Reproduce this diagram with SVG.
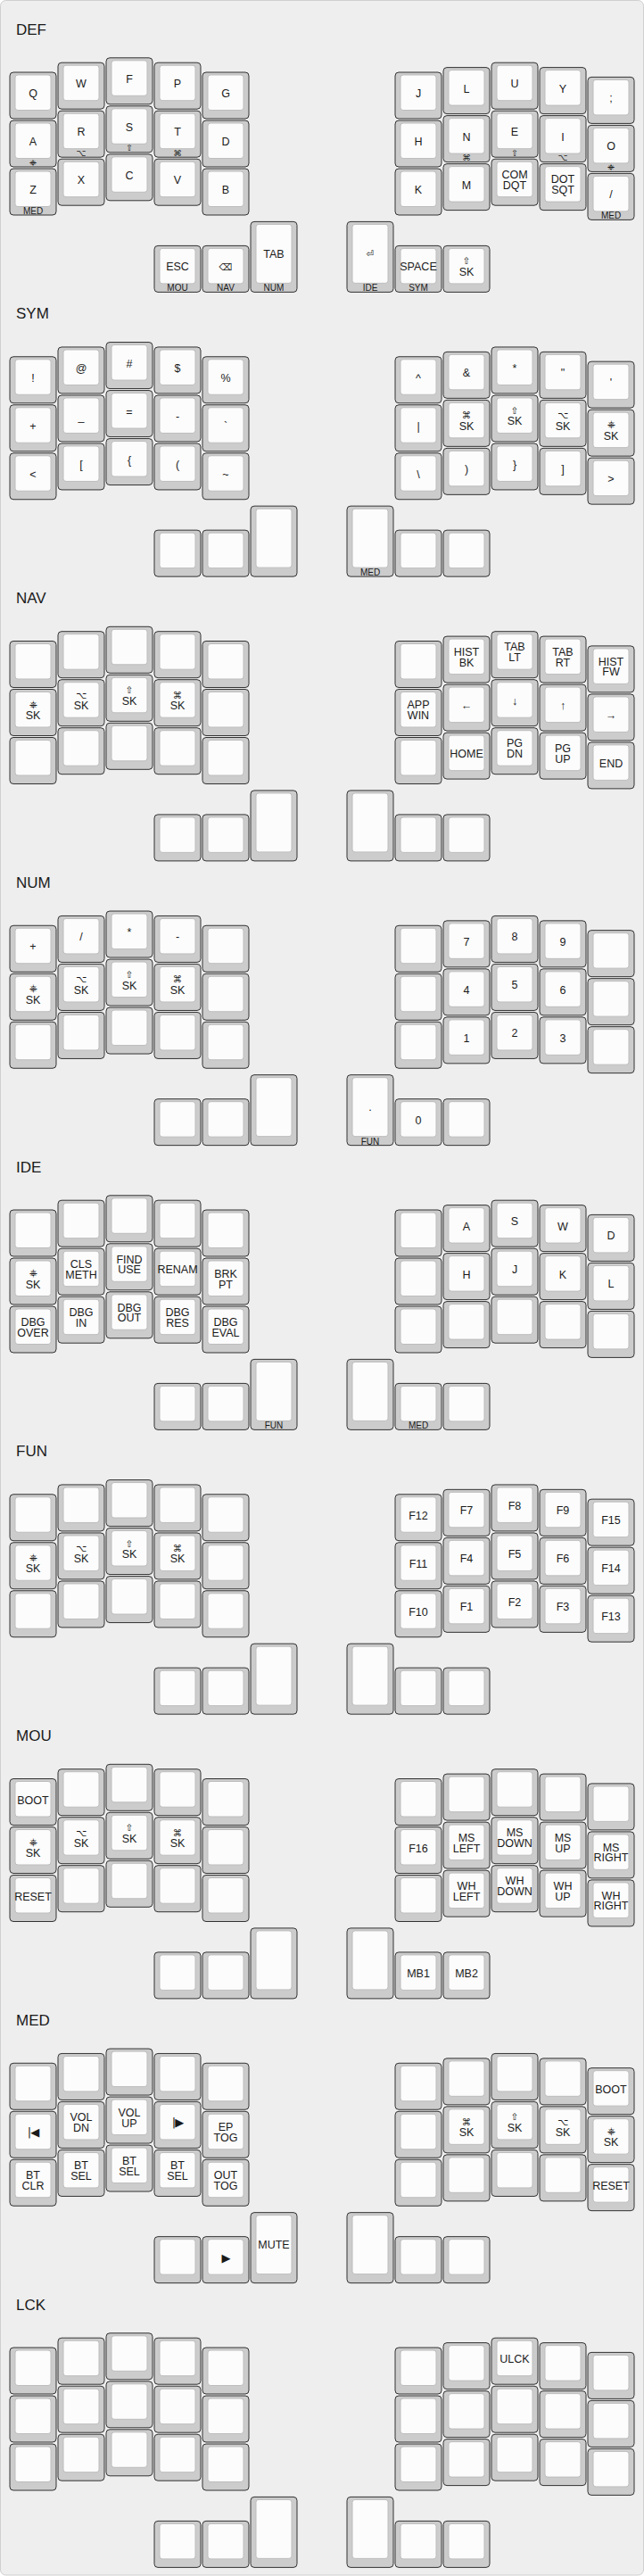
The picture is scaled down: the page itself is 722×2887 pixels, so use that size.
<svg xmlns="http://www.w3.org/2000/svg" xmlns:xlink="http://www.w3.org/1999/xlink" width="722" height="2887" viewBox="0 0 722 2887">
<style>
.bg{fill:#eeeeee;stroke:#cfcfcf;stroke-width:1}
.ko{fill:#cccccc;stroke:#333333;stroke-width:1}
.ki{fill:#fcfcfc;stroke:#bdbdbd;stroke-width:1}
text{font-family:"Liberation Sans","DejaVu Sans",Arial,sans-serif;fill:#1a1a1a;text-anchor:middle}
.t{font-size:12.5px}
.s{font-size:10.5px;font-family:"DejaVu Sans","Liberation Sans",sans-serif}
.m{font-size:13px;font-family:"DejaVu Sans","Liberation Sans",sans-serif;letter-spacing:-1px}
.h{font-size:10px}
.hs{font-size:9.5px;font-family:"DejaVu Sans","Liberation Sans",sans-serif}
.title{font-size:17px;text-anchor:start}
</style>
<defs>
<g id="k"><rect class="ko" width="52" height="52" rx="4"/><rect class="ki" x="6" y="3" width="40" height="39.5" rx="3"/></g>
<g id="kt"><rect class="ko" width="52" height="79" rx="4"/><rect class="ki" x="6" y="3" width="40" height="66" rx="3"/></g>
</defs>
<rect class="bg" x="0.5" y="0.5" width="721" height="2885.5" rx="6"/>

<g id="layer-def">
<text class="title" x="18" y="38.5">DEF</text>
<g id="def-l00" transform="translate(11,81)"><use href="#k"/><text class="t" x="26" y="28">Q</text></g>
<g id="def-l01" transform="translate(65,70.2)"><use href="#k"/><text class="t" x="26" y="28">W</text></g>
<g id="def-l02" transform="translate(119,64.8)"><use href="#k"/><text class="t" x="26" y="28">F</text></g>
<g id="def-l03" transform="translate(173,70.2)"><use href="#k"/><text class="t" x="26" y="28">P</text></g>
<g id="def-l04" transform="translate(227,81)"><use href="#k"/><text class="t" x="26" y="28">G</text></g>
<g id="def-l10" transform="translate(11,135)"><use href="#k"/><text class="t" x="26" y="28">A</text><text class="hs" x="26" y="50.5">⎈</text></g>
<g id="def-l11" transform="translate(65,124.2)"><use href="#k"/><text class="t" x="26" y="28">R</text><text class="hs" x="26" y="50.5">⌥</text></g>
<g id="def-l12" transform="translate(119,118.8)"><use href="#k"/><text class="t" x="26" y="28">S</text><text class="hs" x="26" y="50.5">⇧</text></g>
<g id="def-l13" transform="translate(173,124.2)"><use href="#k"/><text class="t" x="26" y="28">T</text><text class="hs" x="26" y="50.5">⌘</text></g>
<g id="def-l14" transform="translate(227,135)"><use href="#k"/><text class="t" x="26" y="28">D</text></g>
<g id="def-l20" transform="translate(11,189)"><use href="#k"/><text class="t" x="26" y="28">Z</text><text class="h" x="26" y="51">MED</text></g>
<g id="def-l21" transform="translate(65,178.2)"><use href="#k"/><text class="t" x="26" y="28">X</text></g>
<g id="def-l22" transform="translate(119,172.8)"><use href="#k"/><text class="t" x="26" y="28">C</text></g>
<g id="def-l23" transform="translate(173,178.2)"><use href="#k"/><text class="t" x="26" y="28">V</text></g>
<g id="def-l24" transform="translate(227,189)"><use href="#k"/><text class="t" x="26" y="28">B</text></g>
<g id="def-t0" transform="translate(173,275.4)"><use href="#k"/><text class="t" x="26" y="28">ESC</text><text class="h" x="26" y="51">MOU</text></g>
<g id="def-t1" transform="translate(227,275.4)"><use href="#k"/><text class="s" x="26" y="27.5">⌫</text><text class="h" x="26" y="51">NAV</text></g>
<g id="def-t2" transform="translate(281,248.4)"><use href="#kt"/><text class="t" x="26" y="40.5">TAB</text><text class="h" x="26" y="78">NUM</text></g>
<g id="def-t3" transform="translate(389,248.4)"><use href="#kt"/><text class="s" x="26" y="40">⏎</text><text class="h" x="26" y="78">IDE</text></g>
<g id="def-t4" transform="translate(443,275.4)"><use href="#k"/><text class="t" x="26" y="28">SPACE</text><text class="h" x="26" y="51">SYM</text></g>
<g id="def-t5" transform="translate(497,275.4)"><use href="#k"/><text class="s" x="26" y="21">⇧</text><text class="t" x="26" y="33.5">SK</text></g>
<g id="def-r00" transform="translate(443,81)"><use href="#k"/><text class="t" x="26" y="28">J</text></g>
<g id="def-r01" transform="translate(497,75.6)"><use href="#k"/><text class="t" x="26" y="28">L</text></g>
<g id="def-r02" transform="translate(551,70.2)"><use href="#k"/><text class="t" x="26" y="28">U</text></g>
<g id="def-r03" transform="translate(605,75.6)"><use href="#k"/><text class="t" x="26" y="28">Y</text></g>
<g id="def-r04" transform="translate(659,86.4)"><use href="#k"/><text class="t" x="26" y="28">;</text></g>
<g id="def-r10" transform="translate(443,135)"><use href="#k"/><text class="t" x="26" y="28">H</text></g>
<g id="def-r11" transform="translate(497,129.6)"><use href="#k"/><text class="t" x="26" y="28">N</text><text class="hs" x="26" y="50.5">⌘</text></g>
<g id="def-r12" transform="translate(551,124.2)"><use href="#k"/><text class="t" x="26" y="28">E</text><text class="hs" x="26" y="50.5">⇧</text></g>
<g id="def-r13" transform="translate(605,129.6)"><use href="#k"/><text class="t" x="26" y="28">I</text><text class="hs" x="26" y="50.5">⌥</text></g>
<g id="def-r14" transform="translate(659,140.4)"><use href="#k"/><text class="t" x="26" y="28">O</text><text class="hs" x="26" y="50.5">⎈</text></g>
<g id="def-r20" transform="translate(443,189)"><use href="#k"/><text class="t" x="26" y="28">K</text></g>
<g id="def-r21" transform="translate(497,183.6)"><use href="#k"/><text class="t" x="26" y="28">M</text></g>
<g id="def-r22" transform="translate(551,178.2)"><use href="#k"/><text class="t" x="26" y="21.8">COM</text><text class="t" x="26" y="33.5">DQT</text></g>
<g id="def-r23" transform="translate(605,183.6)"><use href="#k"/><text class="t" x="26" y="21.8">DOT</text><text class="t" x="26" y="33.5">SQT</text></g>
<g id="def-r24" transform="translate(659,194.4)"><use href="#k"/><text class="t" x="26" y="28">/</text><text class="h" x="26" y="51">MED</text></g>
</g>

<g id="layer-sym" transform="translate(0,318.75)">
<text class="title" x="18" y="38.5">SYM</text>
<g id="sym-l00" transform="translate(11,81)"><use href="#k"/><text class="t" x="26" y="28">!</text></g>
<g id="sym-l01" transform="translate(65,70.2)"><use href="#k"/><text class="t" x="26" y="28">@</text></g>
<g id="sym-l02" transform="translate(119,64.8)"><use href="#k"/><text class="t" x="26" y="28">#</text></g>
<g id="sym-l03" transform="translate(173,70.2)"><use href="#k"/><text class="t" x="26" y="28">$</text></g>
<g id="sym-l04" transform="translate(227,81)"><use href="#k"/><text class="t" x="26" y="28">%</text></g>
<g id="sym-l10" transform="translate(11,135)"><use href="#k"/><text class="t" x="26" y="28">+</text></g>
<g id="sym-l11" transform="translate(65,124.2)"><use href="#k"/><text class="t" x="26" y="28">_</text></g>
<g id="sym-l12" transform="translate(119,118.8)"><use href="#k"/><text class="t" x="26" y="28">=</text></g>
<g id="sym-l13" transform="translate(173,124.2)"><use href="#k"/><text class="t" x="26" y="28">-</text></g>
<g id="sym-l14" transform="translate(227,135)"><use href="#k"/><text class="t" x="26" y="28">`</text></g>
<g id="sym-l20" transform="translate(11,189)"><use href="#k"/><text class="t" x="26" y="28">&lt;</text></g>
<g id="sym-l21" transform="translate(65,178.2)"><use href="#k"/><text class="t" x="26" y="28">[</text></g>
<g id="sym-l22" transform="translate(119,172.8)"><use href="#k"/><text class="t" x="26" y="28">{</text></g>
<g id="sym-l23" transform="translate(173,178.2)"><use href="#k"/><text class="t" x="26" y="28">(</text></g>
<g id="sym-l24" transform="translate(227,189)"><use href="#k"/><text class="t" x="26" y="28">~</text></g>
<g id="sym-t0" transform="translate(173,275.4)"><use href="#k"/></g>
<g id="sym-t1" transform="translate(227,275.4)"><use href="#k"/></g>
<g id="sym-t2" transform="translate(281,248.4)"><use href="#kt"/></g>
<g id="sym-t3" transform="translate(389,248.4)"><use href="#kt"/><text class="h" x="26" y="78">MED</text></g>
<g id="sym-t4" transform="translate(443,275.4)"><use href="#k"/></g>
<g id="sym-t5" transform="translate(497,275.4)"><use href="#k"/></g>
<g id="sym-r00" transform="translate(443,81)"><use href="#k"/><text class="t" x="26" y="28">^</text></g>
<g id="sym-r01" transform="translate(497,75.6)"><use href="#k"/><text class="t" x="26" y="28">&amp;</text></g>
<g id="sym-r02" transform="translate(551,70.2)"><use href="#k"/><text class="t" x="26" y="28">*</text></g>
<g id="sym-r03" transform="translate(605,75.6)"><use href="#k"/><text class="t" x="26" y="28">"</text></g>
<g id="sym-r04" transform="translate(659,86.4)"><use href="#k"/><text class="t" x="26" y="28">'</text></g>
<g id="sym-r10" transform="translate(443,135)"><use href="#k"/><text class="t" x="26" y="28">|</text></g>
<g id="sym-r11" transform="translate(497,129.6)"><use href="#k"/><text class="s" x="26" y="21">⌘</text><text class="t" x="26" y="33.5">SK</text></g>
<g id="sym-r12" transform="translate(551,124.2)"><use href="#k"/><text class="s" x="26" y="21">⇧</text><text class="t" x="26" y="33.5">SK</text></g>
<g id="sym-r13" transform="translate(605,129.6)"><use href="#k"/><text class="s" x="26" y="21">⌥</text><text class="t" x="26" y="33.5">SK</text></g>
<g id="sym-r14" transform="translate(659,140.4)"><use href="#k"/><text class="s" x="26" y="21">⎈</text><text class="t" x="26" y="33.5">SK</text></g>
<g id="sym-r20" transform="translate(443,189)"><use href="#k"/><text class="t" x="26" y="28">\</text></g>
<g id="sym-r21" transform="translate(497,183.6)"><use href="#k"/><text class="t" x="26" y="28">)</text></g>
<g id="sym-r22" transform="translate(551,178.2)"><use href="#k"/><text class="t" x="26" y="28">}</text></g>
<g id="sym-r23" transform="translate(605,183.6)"><use href="#k"/><text class="t" x="26" y="28">]</text></g>
<g id="sym-r24" transform="translate(659,194.4)"><use href="#k"/><text class="t" x="26" y="28">&gt;</text></g>
</g>

<g id="layer-nav" transform="translate(0,637.5)">
<text class="title" x="18" y="38.5">NAV</text>
<g id="nav-l00" transform="translate(11,81)"><use href="#k"/></g>
<g id="nav-l01" transform="translate(65,70.2)"><use href="#k"/></g>
<g id="nav-l02" transform="translate(119,64.8)"><use href="#k"/></g>
<g id="nav-l03" transform="translate(173,70.2)"><use href="#k"/></g>
<g id="nav-l04" transform="translate(227,81)"><use href="#k"/></g>
<g id="nav-l10" transform="translate(11,135)"><use href="#k"/><text class="s" x="26" y="21">⎈</text><text class="t" x="26" y="33.5">SK</text></g>
<g id="nav-l11" transform="translate(65,124.2)"><use href="#k"/><text class="s" x="26" y="21">⌥</text><text class="t" x="26" y="33.5">SK</text></g>
<g id="nav-l12" transform="translate(119,118.8)"><use href="#k"/><text class="s" x="26" y="21">⇧</text><text class="t" x="26" y="33.5">SK</text></g>
<g id="nav-l13" transform="translate(173,124.2)"><use href="#k"/><text class="s" x="26" y="21">⌘</text><text class="t" x="26" y="33.5">SK</text></g>
<g id="nav-l14" transform="translate(227,135)"><use href="#k"/></g>
<g id="nav-l20" transform="translate(11,189)"><use href="#k"/></g>
<g id="nav-l21" transform="translate(65,178.2)"><use href="#k"/></g>
<g id="nav-l22" transform="translate(119,172.8)"><use href="#k"/></g>
<g id="nav-l23" transform="translate(173,178.2)"><use href="#k"/></g>
<g id="nav-l24" transform="translate(227,189)"><use href="#k"/></g>
<g id="nav-t0" transform="translate(173,275.4)"><use href="#k"/></g>
<g id="nav-t1" transform="translate(227,275.4)"><use href="#k"/></g>
<g id="nav-t2" transform="translate(281,248.4)"><use href="#kt"/></g>
<g id="nav-t3" transform="translate(389,248.4)"><use href="#kt"/></g>
<g id="nav-t4" transform="translate(443,275.4)"><use href="#k"/></g>
<g id="nav-t5" transform="translate(497,275.4)"><use href="#k"/></g>
<g id="nav-r00" transform="translate(443,81)"><use href="#k"/></g>
<g id="nav-r01" transform="translate(497,75.6)"><use href="#k"/><text class="t" x="26" y="21.8">HIST</text><text class="t" x="26" y="33.5">BK</text></g>
<g id="nav-r02" transform="translate(551,70.2)"><use href="#k"/><text class="t" x="26" y="21.8">TAB</text><text class="t" x="26" y="33.5">LT</text></g>
<g id="nav-r03" transform="translate(605,75.6)"><use href="#k"/><text class="t" x="26" y="21.8">TAB</text><text class="t" x="26" y="33.5">RT</text></g>
<g id="nav-r04" transform="translate(659,86.4)"><use href="#k"/><text class="t" x="26" y="21.8">HIST</text><text class="t" x="26" y="33.5">FW</text></g>
<g id="nav-r10" transform="translate(443,135)"><use href="#k"/><text class="t" x="26" y="21.8">APP</text><text class="t" x="26" y="33.5">WIN</text></g>
<g id="nav-r11" transform="translate(497,129.6)"><use href="#k"/><text class="t" x="26" y="28">←</text></g>
<g id="nav-r12" transform="translate(551,124.2)"><use href="#k"/><text class="t" x="26" y="28">↓</text></g>
<g id="nav-r13" transform="translate(605,129.6)"><use href="#k"/><text class="t" x="26" y="28">↑</text></g>
<g id="nav-r14" transform="translate(659,140.4)"><use href="#k"/><text class="t" x="26" y="28">→</text></g>
<g id="nav-r20" transform="translate(443,189)"><use href="#k"/></g>
<g id="nav-r21" transform="translate(497,183.6)"><use href="#k"/><text class="t" x="26" y="28">HOME</text></g>
<g id="nav-r22" transform="translate(551,178.2)"><use href="#k"/><text class="t" x="26" y="21.8">PG</text><text class="t" x="26" y="33.5">DN</text></g>
<g id="nav-r23" transform="translate(605,183.6)"><use href="#k"/><text class="t" x="26" y="21.8">PG</text><text class="t" x="26" y="33.5">UP</text></g>
<g id="nav-r24" transform="translate(659,194.4)"><use href="#k"/><text class="t" x="26" y="28">END</text></g>
</g>

<g id="layer-num" transform="translate(0,956.25)">
<text class="title" x="18" y="38.5">NUM</text>
<g id="num-l00" transform="translate(11,81)"><use href="#k"/><text class="t" x="26" y="28">+</text></g>
<g id="num-l01" transform="translate(65,70.2)"><use href="#k"/><text class="t" x="26" y="28">/</text></g>
<g id="num-l02" transform="translate(119,64.8)"><use href="#k"/><text class="t" x="26" y="28">*</text></g>
<g id="num-l03" transform="translate(173,70.2)"><use href="#k"/><text class="t" x="26" y="28">-</text></g>
<g id="num-l04" transform="translate(227,81)"><use href="#k"/></g>
<g id="num-l10" transform="translate(11,135)"><use href="#k"/><text class="s" x="26" y="21">⎈</text><text class="t" x="26" y="33.5">SK</text></g>
<g id="num-l11" transform="translate(65,124.2)"><use href="#k"/><text class="s" x="26" y="21">⌥</text><text class="t" x="26" y="33.5">SK</text></g>
<g id="num-l12" transform="translate(119,118.8)"><use href="#k"/><text class="s" x="26" y="21">⇧</text><text class="t" x="26" y="33.5">SK</text></g>
<g id="num-l13" transform="translate(173,124.2)"><use href="#k"/><text class="s" x="26" y="21">⌘</text><text class="t" x="26" y="33.5">SK</text></g>
<g id="num-l14" transform="translate(227,135)"><use href="#k"/></g>
<g id="num-l20" transform="translate(11,189)"><use href="#k"/></g>
<g id="num-l21" transform="translate(65,178.2)"><use href="#k"/></g>
<g id="num-l22" transform="translate(119,172.8)"><use href="#k"/></g>
<g id="num-l23" transform="translate(173,178.2)"><use href="#k"/></g>
<g id="num-l24" transform="translate(227,189)"><use href="#k"/></g>
<g id="num-t0" transform="translate(173,275.4)"><use href="#k"/></g>
<g id="num-t1" transform="translate(227,275.4)"><use href="#k"/></g>
<g id="num-t2" transform="translate(281,248.4)"><use href="#kt"/></g>
<g id="num-t3" transform="translate(389,248.4)"><use href="#kt"/><text class="t" x="26" y="40.5">.</text><text class="h" x="26" y="78">FUN</text></g>
<g id="num-t4" transform="translate(443,275.4)"><use href="#k"/><text class="t" x="26" y="28">0</text></g>
<g id="num-t5" transform="translate(497,275.4)"><use href="#k"/></g>
<g id="num-r00" transform="translate(443,81)"><use href="#k"/></g>
<g id="num-r01" transform="translate(497,75.6)"><use href="#k"/><text class="t" x="26" y="28">7</text></g>
<g id="num-r02" transform="translate(551,70.2)"><use href="#k"/><text class="t" x="26" y="28">8</text></g>
<g id="num-r03" transform="translate(605,75.6)"><use href="#k"/><text class="t" x="26" y="28">9</text></g>
<g id="num-r04" transform="translate(659,86.4)"><use href="#k"/></g>
<g id="num-r10" transform="translate(443,135)"><use href="#k"/></g>
<g id="num-r11" transform="translate(497,129.6)"><use href="#k"/><text class="t" x="26" y="28">4</text></g>
<g id="num-r12" transform="translate(551,124.2)"><use href="#k"/><text class="t" x="26" y="28">5</text></g>
<g id="num-r13" transform="translate(605,129.6)"><use href="#k"/><text class="t" x="26" y="28">6</text></g>
<g id="num-r14" transform="translate(659,140.4)"><use href="#k"/></g>
<g id="num-r20" transform="translate(443,189)"><use href="#k"/></g>
<g id="num-r21" transform="translate(497,183.6)"><use href="#k"/><text class="t" x="26" y="28">1</text></g>
<g id="num-r22" transform="translate(551,178.2)"><use href="#k"/><text class="t" x="26" y="28">2</text></g>
<g id="num-r23" transform="translate(605,183.6)"><use href="#k"/><text class="t" x="26" y="28">3</text></g>
<g id="num-r24" transform="translate(659,194.4)"><use href="#k"/></g>
</g>

<g id="layer-ide" transform="translate(0,1275)">
<text class="title" x="18" y="38.5">IDE</text>
<g id="ide-l00" transform="translate(11,81)"><use href="#k"/></g>
<g id="ide-l01" transform="translate(65,70.2)"><use href="#k"/></g>
<g id="ide-l02" transform="translate(119,64.8)"><use href="#k"/></g>
<g id="ide-l03" transform="translate(173,70.2)"><use href="#k"/></g>
<g id="ide-l04" transform="translate(227,81)"><use href="#k"/></g>
<g id="ide-l10" transform="translate(11,135)"><use href="#k"/><text class="s" x="26" y="21">⎈</text><text class="t" x="26" y="33.5">SK</text></g>
<g id="ide-l11" transform="translate(65,124.2)"><use href="#k"/><text class="t" x="26" y="21.8">CLS</text><text class="t" x="26" y="33.5">METH</text></g>
<g id="ide-l12" transform="translate(119,118.8)"><use href="#k"/><text class="t" x="26" y="21.8">FIND</text><text class="t" x="26" y="33.5">USE</text></g>
<g id="ide-l13" transform="translate(173,124.2)"><use href="#k"/><text class="t" x="26" y="28">RENAM</text></g>
<g id="ide-l14" transform="translate(227,135)"><use href="#k"/><text class="t" x="26" y="21.8">BRK</text><text class="t" x="26" y="33.5">PT</text></g>
<g id="ide-l20" transform="translate(11,189)"><use href="#k"/><text class="t" x="26" y="21.8">DBG</text><text class="t" x="26" y="33.5">OVER</text></g>
<g id="ide-l21" transform="translate(65,178.2)"><use href="#k"/><text class="t" x="26" y="21.8">DBG</text><text class="t" x="26" y="33.5">IN</text></g>
<g id="ide-l22" transform="translate(119,172.8)"><use href="#k"/><text class="t" x="26" y="21.8">DBG</text><text class="t" x="26" y="33.5">OUT</text></g>
<g id="ide-l23" transform="translate(173,178.2)"><use href="#k"/><text class="t" x="26" y="21.8">DBG</text><text class="t" x="26" y="33.5">RES</text></g>
<g id="ide-l24" transform="translate(227,189)"><use href="#k"/><text class="t" x="26" y="21.8">DBG</text><text class="t" x="26" y="33.5">EVAL</text></g>
<g id="ide-t0" transform="translate(173,275.4)"><use href="#k"/></g>
<g id="ide-t1" transform="translate(227,275.4)"><use href="#k"/></g>
<g id="ide-t2" transform="translate(281,248.4)"><use href="#kt"/><text class="h" x="26" y="78">FUN</text></g>
<g id="ide-t3" transform="translate(389,248.4)"><use href="#kt"/></g>
<g id="ide-t4" transform="translate(443,275.4)"><use href="#k"/><text class="h" x="26" y="51">MED</text></g>
<g id="ide-t5" transform="translate(497,275.4)"><use href="#k"/></g>
<g id="ide-r00" transform="translate(443,81)"><use href="#k"/></g>
<g id="ide-r01" transform="translate(497,75.6)"><use href="#k"/><text class="t" x="26" y="28">A</text></g>
<g id="ide-r02" transform="translate(551,70.2)"><use href="#k"/><text class="t" x="26" y="28">S</text></g>
<g id="ide-r03" transform="translate(605,75.6)"><use href="#k"/><text class="t" x="26" y="28">W</text></g>
<g id="ide-r04" transform="translate(659,86.4)"><use href="#k"/><text class="t" x="26" y="28">D</text></g>
<g id="ide-r10" transform="translate(443,135)"><use href="#k"/></g>
<g id="ide-r11" transform="translate(497,129.6)"><use href="#k"/><text class="t" x="26" y="28">H</text></g>
<g id="ide-r12" transform="translate(551,124.2)"><use href="#k"/><text class="t" x="26" y="28">J</text></g>
<g id="ide-r13" transform="translate(605,129.6)"><use href="#k"/><text class="t" x="26" y="28">K</text></g>
<g id="ide-r14" transform="translate(659,140.4)"><use href="#k"/><text class="t" x="26" y="28">L</text></g>
<g id="ide-r20" transform="translate(443,189)"><use href="#k"/></g>
<g id="ide-r21" transform="translate(497,183.6)"><use href="#k"/></g>
<g id="ide-r22" transform="translate(551,178.2)"><use href="#k"/></g>
<g id="ide-r23" transform="translate(605,183.6)"><use href="#k"/></g>
<g id="ide-r24" transform="translate(659,194.4)"><use href="#k"/></g>
</g>

<g id="layer-fun" transform="translate(0,1593.75)">
<text class="title" x="18" y="38.5">FUN</text>
<g id="fun-l00" transform="translate(11,81)"><use href="#k"/></g>
<g id="fun-l01" transform="translate(65,70.2)"><use href="#k"/></g>
<g id="fun-l02" transform="translate(119,64.8)"><use href="#k"/></g>
<g id="fun-l03" transform="translate(173,70.2)"><use href="#k"/></g>
<g id="fun-l04" transform="translate(227,81)"><use href="#k"/></g>
<g id="fun-l10" transform="translate(11,135)"><use href="#k"/><text class="s" x="26" y="21">⎈</text><text class="t" x="26" y="33.5">SK</text></g>
<g id="fun-l11" transform="translate(65,124.2)"><use href="#k"/><text class="s" x="26" y="21">⌥</text><text class="t" x="26" y="33.5">SK</text></g>
<g id="fun-l12" transform="translate(119,118.8)"><use href="#k"/><text class="s" x="26" y="21">⇧</text><text class="t" x="26" y="33.5">SK</text></g>
<g id="fun-l13" transform="translate(173,124.2)"><use href="#k"/><text class="s" x="26" y="21">⌘</text><text class="t" x="26" y="33.5">SK</text></g>
<g id="fun-l14" transform="translate(227,135)"><use href="#k"/></g>
<g id="fun-l20" transform="translate(11,189)"><use href="#k"/></g>
<g id="fun-l21" transform="translate(65,178.2)"><use href="#k"/></g>
<g id="fun-l22" transform="translate(119,172.8)"><use href="#k"/></g>
<g id="fun-l23" transform="translate(173,178.2)"><use href="#k"/></g>
<g id="fun-l24" transform="translate(227,189)"><use href="#k"/></g>
<g id="fun-t0" transform="translate(173,275.4)"><use href="#k"/></g>
<g id="fun-t1" transform="translate(227,275.4)"><use href="#k"/></g>
<g id="fun-t2" transform="translate(281,248.4)"><use href="#kt"/></g>
<g id="fun-t3" transform="translate(389,248.4)"><use href="#kt"/></g>
<g id="fun-t4" transform="translate(443,275.4)"><use href="#k"/></g>
<g id="fun-t5" transform="translate(497,275.4)"><use href="#k"/></g>
<g id="fun-r00" transform="translate(443,81)"><use href="#k"/><text class="t" x="26" y="28">F12</text></g>
<g id="fun-r01" transform="translate(497,75.6)"><use href="#k"/><text class="t" x="26" y="28">F7</text></g>
<g id="fun-r02" transform="translate(551,70.2)"><use href="#k"/><text class="t" x="26" y="28">F8</text></g>
<g id="fun-r03" transform="translate(605,75.6)"><use href="#k"/><text class="t" x="26" y="28">F9</text></g>
<g id="fun-r04" transform="translate(659,86.4)"><use href="#k"/><text class="t" x="26" y="28">F15</text></g>
<g id="fun-r10" transform="translate(443,135)"><use href="#k"/><text class="t" x="26" y="28">F11</text></g>
<g id="fun-r11" transform="translate(497,129.6)"><use href="#k"/><text class="t" x="26" y="28">F4</text></g>
<g id="fun-r12" transform="translate(551,124.2)"><use href="#k"/><text class="t" x="26" y="28">F5</text></g>
<g id="fun-r13" transform="translate(605,129.6)"><use href="#k"/><text class="t" x="26" y="28">F6</text></g>
<g id="fun-r14" transform="translate(659,140.4)"><use href="#k"/><text class="t" x="26" y="28">F14</text></g>
<g id="fun-r20" transform="translate(443,189)"><use href="#k"/><text class="t" x="26" y="28">F10</text></g>
<g id="fun-r21" transform="translate(497,183.6)"><use href="#k"/><text class="t" x="26" y="28">F1</text></g>
<g id="fun-r22" transform="translate(551,178.2)"><use href="#k"/><text class="t" x="26" y="28">F2</text></g>
<g id="fun-r23" transform="translate(605,183.6)"><use href="#k"/><text class="t" x="26" y="28">F3</text></g>
<g id="fun-r24" transform="translate(659,194.4)"><use href="#k"/><text class="t" x="26" y="28">F13</text></g>
</g>

<g id="layer-mou" transform="translate(0,1912.5)">
<text class="title" x="18" y="38.5">MOU</text>
<g id="mou-l00" transform="translate(11,81)"><use href="#k"/><text class="t" x="26" y="28">BOOT</text></g>
<g id="mou-l01" transform="translate(65,70.2)"><use href="#k"/></g>
<g id="mou-l02" transform="translate(119,64.8)"><use href="#k"/></g>
<g id="mou-l03" transform="translate(173,70.2)"><use href="#k"/></g>
<g id="mou-l04" transform="translate(227,81)"><use href="#k"/></g>
<g id="mou-l10" transform="translate(11,135)"><use href="#k"/><text class="s" x="26" y="21">⎈</text><text class="t" x="26" y="33.5">SK</text></g>
<g id="mou-l11" transform="translate(65,124.2)"><use href="#k"/><text class="s" x="26" y="21">⌥</text><text class="t" x="26" y="33.5">SK</text></g>
<g id="mou-l12" transform="translate(119,118.8)"><use href="#k"/><text class="s" x="26" y="21">⇧</text><text class="t" x="26" y="33.5">SK</text></g>
<g id="mou-l13" transform="translate(173,124.2)"><use href="#k"/><text class="s" x="26" y="21">⌘</text><text class="t" x="26" y="33.5">SK</text></g>
<g id="mou-l14" transform="translate(227,135)"><use href="#k"/></g>
<g id="mou-l20" transform="translate(11,189)"><use href="#k"/><text class="t" x="26" y="28">RESET</text></g>
<g id="mou-l21" transform="translate(65,178.2)"><use href="#k"/></g>
<g id="mou-l22" transform="translate(119,172.8)"><use href="#k"/></g>
<g id="mou-l23" transform="translate(173,178.2)"><use href="#k"/></g>
<g id="mou-l24" transform="translate(227,189)"><use href="#k"/></g>
<g id="mou-t0" transform="translate(173,275.4)"><use href="#k"/></g>
<g id="mou-t1" transform="translate(227,275.4)"><use href="#k"/></g>
<g id="mou-t2" transform="translate(281,248.4)"><use href="#kt"/></g>
<g id="mou-t3" transform="translate(389,248.4)"><use href="#kt"/></g>
<g id="mou-t4" transform="translate(443,275.4)"><use href="#k"/><text class="t" x="26" y="28">MB1</text></g>
<g id="mou-t5" transform="translate(497,275.4)"><use href="#k"/><text class="t" x="26" y="28">MB2</text></g>
<g id="mou-r00" transform="translate(443,81)"><use href="#k"/></g>
<g id="mou-r01" transform="translate(497,75.6)"><use href="#k"/></g>
<g id="mou-r02" transform="translate(551,70.2)"><use href="#k"/></g>
<g id="mou-r03" transform="translate(605,75.6)"><use href="#k"/></g>
<g id="mou-r04" transform="translate(659,86.4)"><use href="#k"/></g>
<g id="mou-r10" transform="translate(443,135)"><use href="#k"/><text class="t" x="26" y="28">F16</text></g>
<g id="mou-r11" transform="translate(497,129.6)"><use href="#k"/><text class="t" x="26" y="21.8">MS</text><text class="t" x="26" y="33.5">LEFT</text></g>
<g id="mou-r12" transform="translate(551,124.2)"><use href="#k"/><text class="t" x="26" y="21.8">MS</text><text class="t" x="26" y="33.5">DOWN</text></g>
<g id="mou-r13" transform="translate(605,129.6)"><use href="#k"/><text class="t" x="26" y="21.8">MS</text><text class="t" x="26" y="33.5">UP</text></g>
<g id="mou-r14" transform="translate(659,140.4)"><use href="#k"/><text class="t" x="26" y="21.8">MS</text><text class="t" x="26" y="33.5">RIGHT</text></g>
<g id="mou-r20" transform="translate(443,189)"><use href="#k"/></g>
<g id="mou-r21" transform="translate(497,183.6)"><use href="#k"/><text class="t" x="26" y="21.8">WH</text><text class="t" x="26" y="33.5">LEFT</text></g>
<g id="mou-r22" transform="translate(551,178.2)"><use href="#k"/><text class="t" x="26" y="21.8">WH</text><text class="t" x="26" y="33.5">DOWN</text></g>
<g id="mou-r23" transform="translate(605,183.6)"><use href="#k"/><text class="t" x="26" y="21.8">WH</text><text class="t" x="26" y="33.5">UP</text></g>
<g id="mou-r24" transform="translate(659,194.4)"><use href="#k"/><text class="t" x="26" y="21.8">WH</text><text class="t" x="26" y="33.5">RIGHT</text></g>
</g>

<g id="layer-med" transform="translate(0,2231.25)">
<text class="title" x="18" y="38.5">MED</text>
<g id="med-l00" transform="translate(11,81)"><use href="#k"/></g>
<g id="med-l01" transform="translate(65,70.2)"><use href="#k"/></g>
<g id="med-l02" transform="translate(119,64.8)"><use href="#k"/></g>
<g id="med-l03" transform="translate(173,70.2)"><use href="#k"/></g>
<g id="med-l04" transform="translate(227,81)"><use href="#k"/></g>
<g id="med-l10" transform="translate(11,135)"><use href="#k"/><text class="m" x="26" y="28">|◀</text></g>
<g id="med-l11" transform="translate(65,124.2)"><use href="#k"/><text class="t" x="26" y="21.8">VOL</text><text class="t" x="26" y="33.5">DN</text></g>
<g id="med-l12" transform="translate(119,118.8)"><use href="#k"/><text class="t" x="26" y="21.8">VOL</text><text class="t" x="26" y="33.5">UP</text></g>
<g id="med-l13" transform="translate(173,124.2)"><use href="#k"/><text class="m" x="26" y="28">|▶</text></g>
<g id="med-l14" transform="translate(227,135)"><use href="#k"/><text class="t" x="26" y="21.8">EP</text><text class="t" x="26" y="33.5">TOG</text></g>
<g id="med-l20" transform="translate(11,189)"><use href="#k"/><text class="t" x="26" y="21.8">BT</text><text class="t" x="26" y="33.5">CLR</text></g>
<g id="med-l21" transform="translate(65,178.2)"><use href="#k"/><text class="t" x="26" y="21.8">BT</text><text class="t" x="26" y="33.5">SEL</text></g>
<g id="med-l22" transform="translate(119,172.8)"><use href="#k"/><text class="t" x="26" y="21.8">BT</text><text class="t" x="26" y="33.5">SEL</text></g>
<g id="med-l23" transform="translate(173,178.2)"><use href="#k"/><text class="t" x="26" y="21.8">BT</text><text class="t" x="26" y="33.5">SEL</text></g>
<g id="med-l24" transform="translate(227,189)"><use href="#k"/><text class="t" x="26" y="21.8">OUT</text><text class="t" x="26" y="33.5">TOG</text></g>
<g id="med-t0" transform="translate(173,275.4)"><use href="#k"/></g>
<g id="med-t1" transform="translate(227,275.4)"><use href="#k"/><text class="m" x="26" y="28">▶</text></g>
<g id="med-t2" transform="translate(281,248.4)"><use href="#kt"/><text class="t" x="26" y="40.5">MUTE</text></g>
<g id="med-t3" transform="translate(389,248.4)"><use href="#kt"/></g>
<g id="med-t4" transform="translate(443,275.4)"><use href="#k"/></g>
<g id="med-t5" transform="translate(497,275.4)"><use href="#k"/></g>
<g id="med-r00" transform="translate(443,81)"><use href="#k"/></g>
<g id="med-r01" transform="translate(497,75.6)"><use href="#k"/></g>
<g id="med-r02" transform="translate(551,70.2)"><use href="#k"/></g>
<g id="med-r03" transform="translate(605,75.6)"><use href="#k"/></g>
<g id="med-r04" transform="translate(659,86.4)"><use href="#k"/><text class="t" x="26" y="28">BOOT</text></g>
<g id="med-r10" transform="translate(443,135)"><use href="#k"/></g>
<g id="med-r11" transform="translate(497,129.6)"><use href="#k"/><text class="s" x="26" y="21">⌘</text><text class="t" x="26" y="33.5">SK</text></g>
<g id="med-r12" transform="translate(551,124.2)"><use href="#k"/><text class="s" x="26" y="21">⇧</text><text class="t" x="26" y="33.5">SK</text></g>
<g id="med-r13" transform="translate(605,129.6)"><use href="#k"/><text class="s" x="26" y="21">⌥</text><text class="t" x="26" y="33.5">SK</text></g>
<g id="med-r14" transform="translate(659,140.4)"><use href="#k"/><text class="s" x="26" y="21">⎈</text><text class="t" x="26" y="33.5">SK</text></g>
<g id="med-r20" transform="translate(443,189)"><use href="#k"/></g>
<g id="med-r21" transform="translate(497,183.6)"><use href="#k"/></g>
<g id="med-r22" transform="translate(551,178.2)"><use href="#k"/></g>
<g id="med-r23" transform="translate(605,183.6)"><use href="#k"/></g>
<g id="med-r24" transform="translate(659,194.4)"><use href="#k"/><text class="t" x="26" y="28">RESET</text></g>
</g>

<g id="layer-lck" transform="translate(0,2550)">
<text class="title" x="18" y="38.5">LCK</text>
<g id="lck-l00" transform="translate(11,81)"><use href="#k"/></g>
<g id="lck-l01" transform="translate(65,70.2)"><use href="#k"/></g>
<g id="lck-l02" transform="translate(119,64.8)"><use href="#k"/></g>
<g id="lck-l03" transform="translate(173,70.2)"><use href="#k"/></g>
<g id="lck-l04" transform="translate(227,81)"><use href="#k"/></g>
<g id="lck-l10" transform="translate(11,135)"><use href="#k"/></g>
<g id="lck-l11" transform="translate(65,124.2)"><use href="#k"/></g>
<g id="lck-l12" transform="translate(119,118.8)"><use href="#k"/></g>
<g id="lck-l13" transform="translate(173,124.2)"><use href="#k"/></g>
<g id="lck-l14" transform="translate(227,135)"><use href="#k"/></g>
<g id="lck-l20" transform="translate(11,189)"><use href="#k"/></g>
<g id="lck-l21" transform="translate(65,178.2)"><use href="#k"/></g>
<g id="lck-l22" transform="translate(119,172.8)"><use href="#k"/></g>
<g id="lck-l23" transform="translate(173,178.2)"><use href="#k"/></g>
<g id="lck-l24" transform="translate(227,189)"><use href="#k"/></g>
<g id="lck-t0" transform="translate(173,275.4)"><use href="#k"/></g>
<g id="lck-t1" transform="translate(227,275.4)"><use href="#k"/></g>
<g id="lck-t2" transform="translate(281,248.4)"><use href="#kt"/></g>
<g id="lck-t3" transform="translate(389,248.4)"><use href="#kt"/></g>
<g id="lck-t4" transform="translate(443,275.4)"><use href="#k"/></g>
<g id="lck-t5" transform="translate(497,275.4)"><use href="#k"/></g>
<g id="lck-r00" transform="translate(443,81)"><use href="#k"/></g>
<g id="lck-r01" transform="translate(497,75.6)"><use href="#k"/></g>
<g id="lck-r02" transform="translate(551,70.2)"><use href="#k"/><text class="t" x="26" y="28">ULCK</text></g>
<g id="lck-r03" transform="translate(605,75.6)"><use href="#k"/></g>
<g id="lck-r04" transform="translate(659,86.4)"><use href="#k"/></g>
<g id="lck-r10" transform="translate(443,135)"><use href="#k"/></g>
<g id="lck-r11" transform="translate(497,129.6)"><use href="#k"/></g>
<g id="lck-r12" transform="translate(551,124.2)"><use href="#k"/></g>
<g id="lck-r13" transform="translate(605,129.6)"><use href="#k"/></g>
<g id="lck-r14" transform="translate(659,140.4)"><use href="#k"/></g>
<g id="lck-r20" transform="translate(443,189)"><use href="#k"/></g>
<g id="lck-r21" transform="translate(497,183.6)"><use href="#k"/></g>
<g id="lck-r22" transform="translate(551,178.2)"><use href="#k"/></g>
<g id="lck-r23" transform="translate(605,183.6)"><use href="#k"/></g>
<g id="lck-r24" transform="translate(659,194.4)"><use href="#k"/></g>
</g>
</svg>
